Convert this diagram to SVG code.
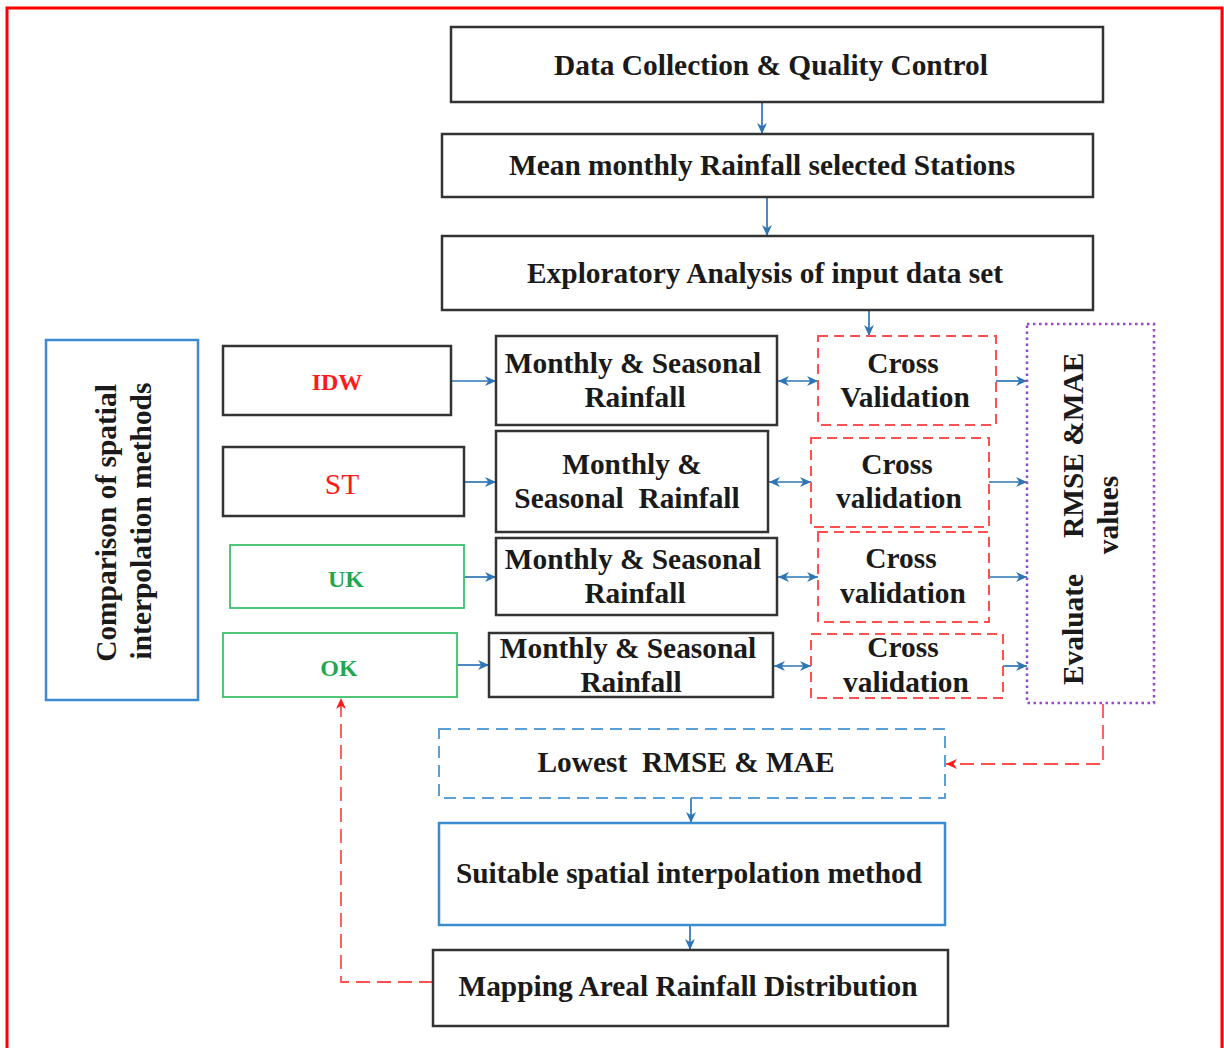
<svg xmlns="http://www.w3.org/2000/svg" width="1224" height="1048" viewBox="0 0 1224 1048">
<style>
text{font-family:"Liberation Serif","Times New Roman",serif;font-weight:bold;font-size:29.4px;fill:#1a1a1a;text-anchor:middle}
.bx{fill:#fff;stroke:#333;stroke-width:2.5}
.bl{fill:#fff;stroke:#3a8bd0;stroke-width:2.5}
.gr{fill:#fff;stroke:#3cc06a;stroke-width:1.8}
.cv{fill:#fff;stroke:#ff4f4f;stroke-width:2;stroke-dasharray:10 6}
.lo{fill:#fff;stroke:#5b9fd8;stroke-width:2;stroke-dasharray:12 7}
.pu{fill:#fff;stroke:#9448d4;stroke-width:2.5;stroke-dasharray:2.5 3.5}
.c{fill:none;stroke:#2e75b6;stroke-width:1.7}
.r{fill:none;stroke:#ff4f4f;stroke-width:1.8;stroke-dasharray:14 7}
.red{fill:#ff1a1a}
.green{fill:#1fa84f}
</style>
<defs>
<marker id="ab" viewBox="0 0 10 10" refX="10" refY="5" markerWidth="11" markerHeight="11" markerUnits="userSpaceOnUse" orient="auto-start-reverse"><path d="M0,0.5 L10,5 L0,9.5 L3,5 z" fill="#2e75b6"/></marker>
<marker id="ar" viewBox="0 0 10 10" refX="10" refY="5" markerWidth="11" markerHeight="11" markerUnits="userSpaceOnUse" orient="auto"><path d="M0,0.5 L10,5 L0,9.5 L3,5 z" fill="#ff1a1a"/></marker>
</defs>
<rect x="7" y="8" width="1215" height="1060" fill="none" stroke="#ff0000" stroke-width="3"/>

<g id="connectors">
<path class="c" d="M762,102 V134" marker-end="url(#ab)"/>
<path class="c" d="M767,197 V236" marker-end="url(#ab)"/>
<path class="c" d="M869,310 V336" marker-end="url(#ab)"/>
<path class="c" d="M451,381 H496" marker-end="url(#ab)"/>
<path class="c" d="M464,482 H496" marker-end="url(#ab)"/>
<path class="c" d="M464,577 H496" marker-end="url(#ab)"/>
<path class="c" d="M457,665 H489" marker-end="url(#ab)"/>
<path class="c" d="M778,381 H818" marker-start="url(#ab)" marker-end="url(#ab)"/>
<path class="c" d="M769,482 H811" marker-start="url(#ab)" marker-end="url(#ab)"/>
<path class="c" d="M778,577 H818" marker-start="url(#ab)" marker-end="url(#ab)"/>
<path class="c" d="M774,666 H811" marker-start="url(#ab)" marker-end="url(#ab)"/>
<path class="c" d="M996,381 H1027" marker-end="url(#ab)"/>
<path class="c" d="M989,482 H1027" marker-end="url(#ab)"/>
<path class="c" d="M989,577 H1027" marker-end="url(#ab)"/>
<path class="c" d="M1003,666 H1027" marker-end="url(#ab)"/>
<path class="c" d="M691,798 V823" marker-end="url(#ab)"/>
<path class="c" d="M690,925 V950" marker-end="url(#ab)"/>
<path class="r" d="M1103,704 V764 H946" marker-end="url(#ar)"/>
<path class="r" d="M433,982 H341 V698" marker-end="url(#ar)"/>
</g>

<g id="data-collection"><rect class="bx" x="451" y="27" width="652" height="75"/><text x="771" y="75">Data Collection &amp; Quality Control</text></g>
<g id="mean-monthly"><rect class="bx" x="442" y="134" width="651" height="63"/><text x="762" y="175">Mean monthly Rainfall selected Stations</text></g>
<g id="exploratory"><rect class="bx" x="442" y="236" width="651" height="74"/><text x="765" y="283">Exploratory Analysis of input data set</text></g>

<g id="comparison"><rect class="bl" x="46" y="340" width="152" height="360"/>
<text transform="rotate(-90)"><tspan x="-523" y="116">Comparison of spatial</tspan><tspan x="-521" y="151">interpolation methods</tspan></text></g>

<g id="idw"><rect class="bx" x="223" y="346" width="228" height="69"/><text class="red" x="337" y="390" style="font-size:24px">IDW</text></g>
<g id="st"><rect class="bx" x="223" y="447" width="241" height="69"/><text class="red" x="342" y="494" style="font-weight:normal">ST</text></g>
<g id="uk"><rect class="gr" x="230" y="545" width="234" height="63"/><text class="green" x="346" y="587" style="font-size:24px">UK</text></g>
<g id="ok"><rect class="gr" x="223" y="633" width="234" height="64"/><text class="green" x="339" y="676" style="font-size:24px">OK</text></g>

<g id="monthly-1"><rect class="bx" x="496" y="336" width="281" height="89"/><text x="633" y="373">Monthly &amp; Seasonal</text><text x="635" y="407">Rainfall</text></g>
<g id="monthly-2"><rect class="bx" x="496" y="431" width="272" height="101"/><text x="632" y="474">Monthly &amp;</text><text x="627" y="508" xml:space="preserve">Seasonal  Rainfall</text></g>
<g id="monthly-3"><rect class="bx" x="496" y="538" width="281" height="77"/><text x="633" y="569">Monthly &amp; Seasonal</text><text x="635" y="603">Rainfall</text></g>
<g id="monthly-4"><rect class="bx" x="489" y="633" width="284" height="64"/><text x="628" y="658">Monthly &amp; Seasonal</text><text x="631" y="692">Rainfall</text></g>

<g id="cv-1"><rect class="cv" x="818" y="336" width="178" height="89"/><text x="903" y="373">Cross</text><text x="905" y="407">Validation</text></g>
<g id="cv-2"><rect class="cv" x="811" y="438" width="178" height="89"/><text x="897" y="474">Cross</text><text x="899" y="508">validation</text></g>
<g id="cv-3"><rect class="cv" x="818" y="532" width="171" height="90"/><text x="901" y="568">Cross</text><text x="903" y="603">validation</text></g>
<g id="cv-4"><rect class="cv" x="811" y="634" width="192" height="64"/><text x="903" y="657">Cross</text><text x="906" y="692">validation</text></g>

<g id="evaluate"><rect class="pu" x="1027" y="324" width="127" height="379"/>
<text transform="rotate(-90)" style="text-anchor:start"><tspan x="-685" y="1083">Evaluate</tspan><tspan x="-538" y="1083">RMSE &amp;MAE</tspan></text>
<text transform="rotate(-90)" x="-515" y="1118">values</text></g>

<g id="lowest"><rect class="lo" x="439" y="729" width="506" height="69"/><text x="686" y="772" xml:space="preserve">Lowest  RMSE &amp; MAE</text></g>
<g id="suitable"><rect class="bl" x="439" y="823" width="506" height="102"/><text x="689" y="883">Suitable spatial interpolation method</text></g>
<g id="mapping"><rect class="bx" x="433" y="950" width="515" height="76"/><text x="688" y="996">Mapping Areal Rainfall Distribution</text></g>
</svg>
